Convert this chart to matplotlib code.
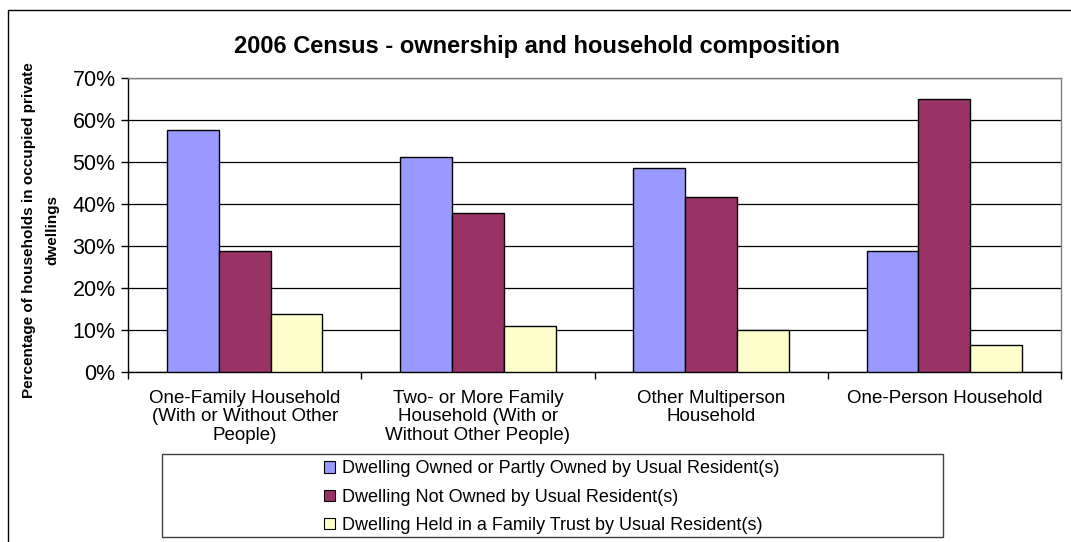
import matplotlib
matplotlib.use("Agg")
import matplotlib.pyplot as plt
from matplotlib.patches import Rectangle, Patch
from matplotlib.ticker import FuncFormatter, FixedLocator
import numpy as np

plt.rcParams['font.family'] = ['Liberation Sans', 'DejaVu Sans']

categories = [
    "One-Family Household\n(With or Without Other\nPeople)",
    "Two- or More Family\nHousehold (With or\nWithout Other People)",
    "Other Multiperson\nHousehold",
    "One-Person Household",
]
series_names = [
    "Dwelling Owned or Partly Owned by Usual Resident(s)",
    "Dwelling Not Owned by Usual Resident(s)",
    "Dwelling Held in a Family Trust by Usual Resident(s)",
]
owned = [57.6, 51.3, 48.6, 28.8]
not_owned = [28.8, 37.9, 41.7, 64.9]
family_trust = [13.7, 10.9, 10.0, 6.4]
colors = ["#9999FF", "#993366", "#FFFFCC"]
y_ticks = [0, 10, 20, 30, 40, 50, 60, 70]

W, H = 1071, 542
fig = plt.figure(figsize=(W / 100, H / 100), dpi=100)

# outer chart frame (runs off the right and bottom edges)
fig.patches.append(Rectangle((8 / W, -0.2), 1.2, 1.2 - 10 / H,
                             transform=fig.transFigure, fill=False,
                             edgecolor="black", linewidth=1.0))

ax = fig.add_axes([128 / W, 1 - 372 / H, (1061 - 128) / W, (372 - 78) / H])

x = np.arange(len(categories))
bw = 1 / 4.5
for i, (vals, c, name) in enumerate(zip([owned, not_owned, family_trust], colors, series_names)):
    ax.bar(x + (i - 1) * bw, vals, width=bw, color=c, edgecolor="black",
           linewidth=1.0, label=name, zorder=3)

ax.set_xlim(-0.5, len(categories) - 0.5)
ax.set_ylim(0, 70)
ax.yaxis.set_major_locator(FixedLocator(y_ticks))
ax.yaxis.set_major_formatter(FuncFormatter(lambda v, p: f"{v:.0f}%"))
ax.grid(axis="y", color="black", linewidth=0.9, zorder=0)

ax.set_xticks(x)
ax.set_xticklabels(categories, fontsize=13.5, linespacing=1.1)
ax.tick_params(axis="x", length=0, pad=13)
ax.set_xticks(np.arange(len(categories) + 1) - 0.5, minor=True)
ax.tick_params(axis="x", which="minor", length=5, direction="out", width=1)
ax.tick_params(axis="y", length=5, direction="out", width=1, labelsize=15.5, pad=4)

for s in ["top", "right"]:
    ax.spines[s].set_color("#808080")
    ax.spines[s].set_linewidth(1.0)
for s in ["left", "bottom"]:
    ax.spines[s].set_color("black")
    ax.spines[s].set_linewidth(1.0)

fig.text(537 / W, 1 - 47 / H, "2006 Census - ownership and household composition",
         ha="center", va="center", fontsize=17, fontweight="bold")
fig.text(41 / W, 1 - 230 / H,
         "Percentage of households in occupied private\ndwellings",
         ha="center", va="center", rotation=90, fontsize=11, fontweight="bold",
         linespacing=1.85)

# legend box
fig.patches.append(Rectangle((162 / W, 1 - 537 / H), (943 - 162) / W, (537 - 454) / H,
                             transform=fig.transFigure, fill=False,
                             edgecolor="#404040", linewidth=1.0))
handles = [Patch(facecolor=c, edgecolor="black", linewidth=0.8) for c in colors]
fig.legend(handles, series_names, loc="upper left",
           bbox_to_anchor=(310 / W, 1 - 446 / H), frameon=False,
           fontsize=13, handlelength=0.6, handleheight=0.6, handletextpad=0.4,
           labelspacing=0.62, borderpad=0.3)

fig.savefig("out.png", dpi=100, facecolor="white")
